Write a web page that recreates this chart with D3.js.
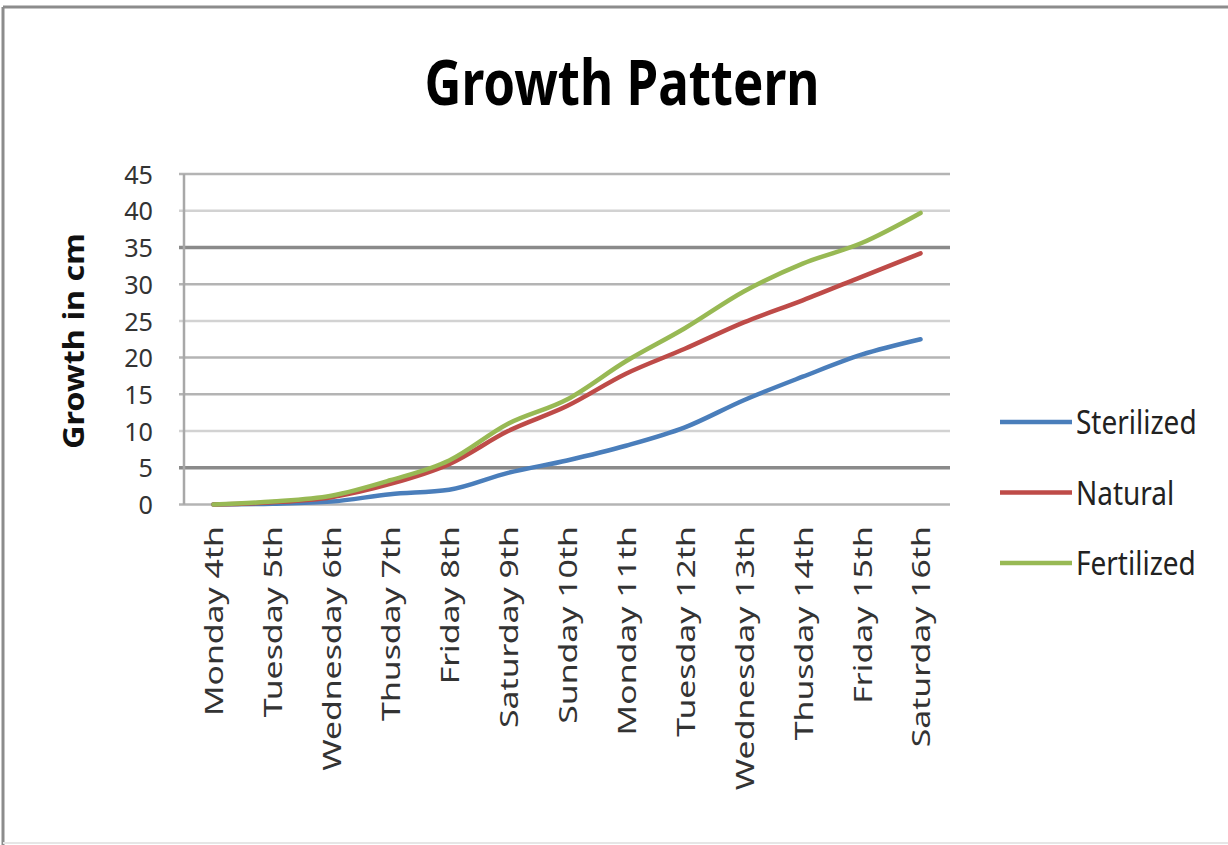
<!DOCTYPE html>
<html>
<head>
<meta charset="utf-8">
<script src="https://cdn.jsdelivr.net/npm/d3@7"></script>
<style>
  html, body { margin: 0; padding: 0; background: #fff; }
  svg { display: block; }
  text { font-family: "Noto Sans", "Open Sans", sans-serif; fill: #111; }
</style>
</head>
<body>
<svg id="chart" width="1228" height="845"></svg>
<script>
const categories = ["Monday 4th", "Tuesday 5th", "Wednesday 6th", "Thusday 7th", "Friday 8th",
  "Saturday 9th", "Sunday 10th", "Monday 11th", "Tuesday 12th", "Wednesday 13th",
  "Thusday 14th", "Friday 15th", "Saturday 16th"];
const seriesNames = ["Sterilized", "Natural", "Fertilized"];
const sterilized = [0, 0.1, 0.4, 1.4, 2.0, 4.3, 6.0, 8.0, 10.5, 14.2, 17.4, 20.4, 22.5];
const natural    = [0, 0.3, 1.0, 2.8, 5.5, 10.0, 13.4, 17.8, 21.2, 24.8, 27.8, 31.0, 34.2];
const fertilized = [0, 0.4, 1.2, 3.3, 6.0, 11.0, 14.3, 19.5, 24.0, 29.0, 32.8, 35.6, 39.7];
const yTicks = [0, 5, 10, 15, 20, 25, 30, 35, 40, 45];
const titleText = "Growth Pattern";
const yAxisTitle = "Growth in cm";

const colors = ["#4A7EBB", "#BE4B48", "#98B954"];
const seriesValues = [sterilized, natural, fertilized];

const svg = d3.select("#chart");
const W = 1228, H = 845;
const plot = { left: 184, right: 950, top: 174, bottom: 504.5 };

// outer border (top + left visible)
svg.append("line").attr("x1", 3).attr("x2", W).attr("y1", 7).attr("y2", 7)
  .attr("stroke", "#8c8c8c").attr("stroke-width", 3);
svg.append("line").attr("x1", 3).attr("x2", 3).attr("y1", 7).attr("y2", H)
  .attr("stroke", "#8c8c8c").attr("stroke-width", 3);
svg.append("line").attr("x1", 3).attr("x2", W).attr("y1", 843).attr("y2", 843)
  .attr("stroke", "#e6e6e6").attr("stroke-width", 2);

const x = d3.scalePoint().domain(categories).range([plot.left, plot.right]).padding(0.5);
const y = d3.scaleLinear().domain([0, 45]).range([plot.bottom, plot.top]);

// gridlines
function gridColor(v) {
  if (v === 35 || v === 5) return "#8a8a8a";
  if (v === 0 || v === 45 || v === 20 || v === 15 || v === 30) return "#b4b4b4";
  return "#d2d2d2";
}
svg.append("g").selectAll("line").data(yTicks).join("line")
  .attr("x1", plot.left - 5).attr("x2", plot.right)
  .attr("y1", d => y(d)).attr("y2", d => y(d))
  .attr("stroke", d => gridColor(d))
  .attr("stroke-width", d => (d === 35 || d === 5) ? 3.5 : 2.5);

// y axis line
svg.append("line").attr("x1", plot.left).attr("x2", plot.left)
  .attr("y1", plot.top).attr("y2", plot.bottom)
  .attr("stroke", "#a8a8a8").attr("stroke-width", 2.5);

// y tick labels
svg.append("g").selectAll("text").data(yTicks).join("text")
  .attr("text-anchor", "end")
  .attr("dominant-baseline", "central")
  .attr("transform", d => `translate(153,${y(d)}) scale(0.97,1)`)
  .style("font-size", "26px")
  .style("fill", "#333")
  .text(d => d);

// x tick labels
svg.append("g").selectAll("text").data(categories).join("text")
  .attr("text-anchor", "end")
  .attr("dominant-baseline", "central")
  .attr("transform", d => `translate(${x(d)},526) scale(1,1.3) rotate(-90)`)
  .style("font-size", "26px")
  .style("fill", "#333")
  .text(d => d);

// lines
const line = d3.line()
  .x((d, i) => x(categories[i]))
  .y(d => y(d))
  .curve(d3.curveMonotoneX);

svg.append("g").selectAll("path").data(seriesValues).join("path")
  .attr("d", d => line(d))
  .attr("fill", "none")
  .attr("stroke", (d, i) => colors[i])
  .attr("stroke-width", 4.5)
  .attr("stroke-linejoin", "round")
  .attr("stroke-linecap", "round");

// title
svg.append("text")
  .attr("x", 622).attr("y", 105)
  .attr("text-anchor", "middle")
  .attr("textLength", 395).attr("lengthAdjust", "spacingAndGlyphs")
  .style("font-size", "62px").style("font-weight", "bold")
  .style("fill", "#000")
  .text(titleText);

// y axis title
svg.append("text")
  .attr("transform", "translate(84,341) rotate(-90)")
  .attr("text-anchor", "middle")
  .attr("textLength", 216).attr("lengthAdjust", "spacingAndGlyphs")
  .style("font-size", "29px").style("font-weight", "bold")
  .style("fill", "#111")
  .text(yAxisTitle);

// legend
const legendY = d3.scalePoint().domain(seriesNames).range([422, 563]);
const lg = svg.append("g").selectAll("g").data(seriesNames).join("g")
  .attr("transform", d => `translate(1000,${legendY(d)})`);
lg.append("line").attr("x1", 0).attr("x2", 72).attr("y1", 0).attr("y2", 0)
  .attr("stroke", (d, i) => colors[i]).attr("stroke-width", 4.5);
lg.append("text")
  .attr("transform", "translate(76,0) scale(1,1.15)")
  .attr("dominant-baseline", "central")
  .style("font-size", "28px")
  .style("fill", "#222")
  .text(d => d);
</script>
</body>
</html>
